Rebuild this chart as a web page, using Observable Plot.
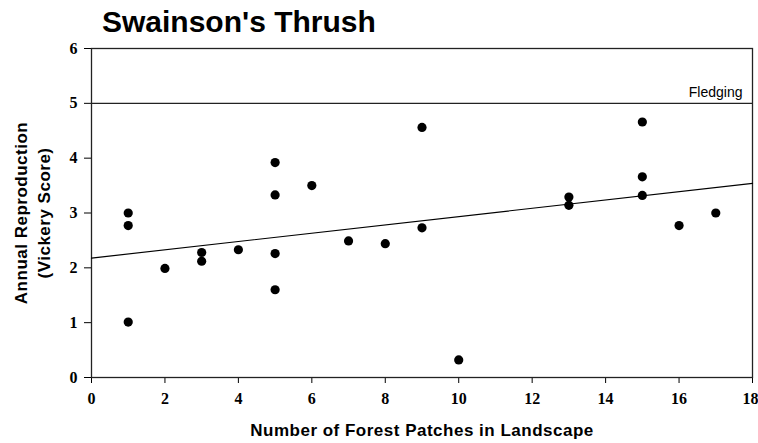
<!DOCTYPE html>
<html><head><meta charset="utf-8">
<script src="https://cdn.jsdelivr.net/npm/d3@7"></script>
<script src="https://cdn.jsdelivr.net/npm/@observablehq/plot@0.6"></script>
<style>
body{margin:0;background:#fff;width:758px;height:443px;overflow:hidden}
#title{font:bold 30px "Liberation Sans",Arial,sans-serif;height:35px;padding-top:5px;padding-left:102px;color:#000;white-space:nowrap;overflow:visible}
#chart svg{display:block}
</style></head><body>
<div id="title">Swainson's Thrush</div>
<div id="chart"></div>
<script>
const patches = [1,1,1,2,3,3,4,5,5,5,5,6,7,8,9,9,10,13,13,15,15,15,16,17];
const reproduction = [3.00,2.77,1.01,1.99,2.28,2.12,2.33,3.92,3.33,2.26,1.60,3.50,2.49,2.44,4.56,2.73,0.32,3.29,3.14,4.66,3.66,3.32,2.77,3.00];
const xTicks = [0,2,4,6,8,10,12,14,16,18];
const yTicks = [0,1,2,3,4,5,6];
const xDomain = [0,18];
const yDomain = [0,6];
const fledgingLevel = 5;
const fledgingLabel = "Fledging";
const xTitle = "Number of Forest Patches in Landscape";
const yTitle = "Annual Reproduction\n(Vickery Score)";

const points = patches.map((x, i) => ({x, y: reproduction[i]}));
const mx = d3.mean(patches), my = d3.mean(reproduction);
const slope = d3.sum(points, d => (d.x - mx) * (d.y - my)) / d3.sum(points, d => (d.x - mx) ** 2);
const intercept = my - slope * mx;
const fit = xDomain.map(x => ({x, y: intercept + slope * x}));
const lastTick = xTicks[xTicks.length - 1];

const sans = "'Liberation Sans', Arial, sans-serif";
const plot = Plot.plot({
  width: 758, height: 403,
  marginTop: 8, marginBottom: 66, marginLeft: 91, marginRight: 6,
  style: {background: "#fff", color: "#000", fontFamily: "'Liberation Serif', 'Times New Roman', serif", fontSize: "16px", fontWeight: "bold"},
  x: {domain: xDomain, ticks: xTicks, tickSize: 6, tickPadding: 9, label: null, tickFormat: d => d === lastTick ? "" : String(d)},
  y: {domain: yDomain, ticks: yTicks, tickSize: 7, tickPadding: 7, label: null, tickFormat: d => String(d)},
  marks: [
    Plot.frame({stroke: "#222", strokeWidth: 1.3}),
    Plot.ruleY([fledgingLevel], {stroke: "#222", strokeWidth: 1.3}),
    Plot.line(fit, {x: "x", y: "y", stroke: "#000", strokeWidth: 1.2}),
    Plot.dot(points, {x: "x", y: "y", r: 4.6, fill: "#000", stroke: null}),
    Plot.text([lastTick], {x: d => d, frameAnchor: "bottom", text: d => String(d), textAnchor: "end", lineAnchor: "top", dx: 6, dy: 15}),
    Plot.text([fledgingLabel], {x: () => xDomain[1], y: () => fledgingLevel, text: d => d, textAnchor: "end", lineAnchor: "bottom", dx: -10, dy: -6, fontFamily: sans, fontSize: 14, fontWeight: "normal"}),
    Plot.text([xTitle], {frameAnchor: "bottom", textAnchor: "middle", lineAnchor: "bottom", dy: 58, text: d => d, fontFamily: sans, fontSize: 17, fontWeight: "bold"}),
    Plot.text([yTitle], {frameAnchor: "left", textAnchor: "middle", lineAnchor: "middle", rotate: -90, dx: -60, lineHeight: 1.35, text: d => d, fontFamily: sans, fontSize: 17, fontWeight: "bold"})
  ]
});
document.getElementById("chart").appendChild(plot);
d3.select(plot).selectAll("text").filter(function(){ return this.textContent === xTitle || this.textContent.startsWith("Annual"); }).style("letter-spacing", "0.5px");
</script>
</body></html>
